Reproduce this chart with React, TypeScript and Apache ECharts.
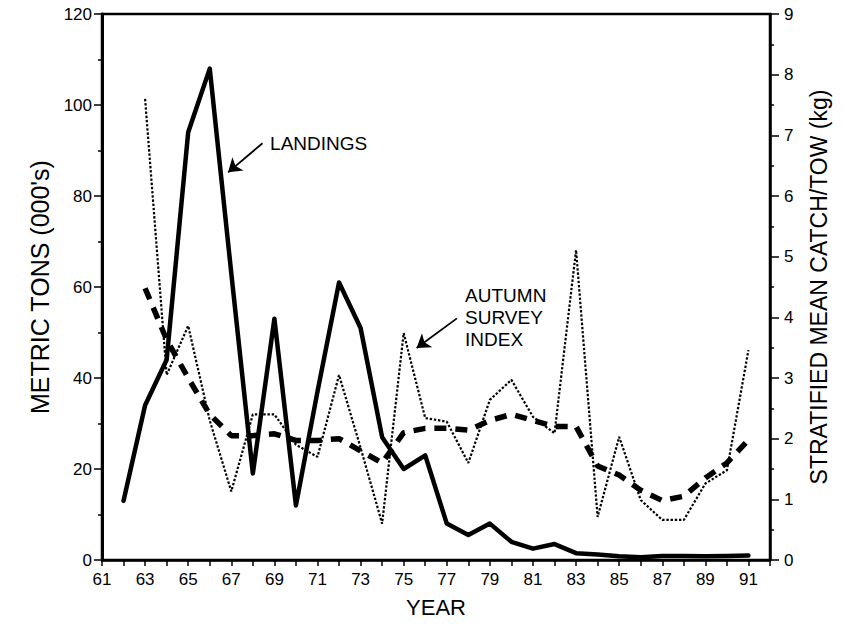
import React, { useEffect, useRef } from "react";
import * as echarts from "echarts";

// ---- data ----
const landingYears = [62, 63, 64, 65, 66, 67, 68, 69, 70, 71, 72, 73, 74, 75, 76, 77, 78, 79, 80, 81, 82, 83, 84, 85, 86, 87, 88, 89, 90, 91];
const landings = [13, 34, 44, 94, 108, 63, 19, 53, 12, 37, 61, 51, 27, 20, 23, 8, 5.5, 8, 4, 2.5, 3.5, 1.5, 1.2, 0.8, 0.6, 0.9, 0.9, 0.8, 0.9, 1.0];

const surveyYears = [63, 64, 65, 66, 67, 68, 69, 70, 71, 72, 73, 74, 75, 76, 77, 78, 79, 80, 81, 82, 83, 84, 85, 86, 87, 88, 89, 90, 91];
const surveyIndex = [7.6, 3.05, 3.86, 2.3, 1.13, 2.4, 2.4, 1.9, 1.7, 3.05, 1.85, 0.6, 3.74, 2.34, 2.28, 1.6, 2.64, 2.97, 2.36, 2.09, 5.11, 0.71, 2.03, 0.99, 0.66, 0.66, 1.26, 1.48, 3.46];
const surveySmooth = [4.48, 3.63, 3.0, 2.4, 2.05, 2.05, 2.08, 1.97, 1.97, 2.0, 1.8, 1.6, 2.1, 2.17, 2.17, 2.14, 2.3, 2.4, 2.3, 2.2, 2.2, 1.55, 1.4, 1.15, 0.98, 1.05, 1.35, 1.6, 1.98];

const leftAxisTitle = "METRIC TONS (000's)";
const rightAxisTitle = "STRATIFIED MEAN CATCH/TOW (kg)";
const xAxisTitle = "YEAR";
const landingsLabel = "LANDINGS";
const surveyLabel = "AUTUMN\nSURVEY\nINDEX";

const FONT = "'Liberation Sans', Arial, sans-serif";

export default function App() {
  const ref = useRef<HTMLDivElement>(null);

  useEffect(() => {
    if (!ref.current) return;
    const chart = echarts.init(ref.current, null, { renderer: "svg" });

    const axisLine = (w: number) => ({ show: true, lineStyle: { color: "#000", width: w } });
    const tickStyle = { color: "#000", width: 1.5 };
    const labelStyle = { color: "#000", fontSize: 17, fontFamily: FONT };

    const option: any = {
      animation: false,
      backgroundColor: "#fff",
      grid: { left: 102, right: 73, top: 14, bottom: 66, show: true, borderColor: "#000", borderWidth: 2.5 },
      xAxis: {
        type: "value",
        min: 61,
        max: 92,
        interval: 1,
        axisLine: axisLine(2.5),
        axisTick: { show: true, length: 6, lineStyle: tickStyle },
        axisLabel: {
          ...labelStyle,
          margin: 11,
          formatter: (v: number) => (v % 2 === 1 && v < 92 ? String(v) : ""),
        },
        splitLine: { show: false },
        name: xAxisTitle,
        nameLocation: "middle",
        nameGap: 36,
        nameTextStyle: { color: "#000", fontSize: 22, fontFamily: FONT },
      },
      yAxis: [
        {
          type: "value",
          min: 0,
          max: 120,
          interval: 20,
          position: "left",
          axisLine: axisLine(3),
          axisTick: { show: true, length: 8, lineStyle: tickStyle },
          minorTick: { show: true, splitNumber: 2, length: 4, lineStyle: tickStyle },
          axisLabel: { ...labelStyle, margin: 10 },
          splitLine: { show: false },
          name: leftAxisTitle,
          nameLocation: "middle",
          nameGap: 50,
          nameRotate: 90,
          nameTextStyle: { color: "#000", fontSize: 25, fontFamily: FONT },
        },
        {
          type: "value",
          min: 0,
          max: 9,
          interval: 1,
          position: "right",
          axisLine: axisLine(2.5),
          axisTick: { show: true, length: 9, lineStyle: tickStyle },
          minorTick: { show: true, splitNumber: 2, length: 4, lineStyle: tickStyle },
          axisLabel: { ...labelStyle, margin: 14 },
          splitLine: { show: false },
          name: rightAxisTitle,
          nameLocation: "middle",
          nameGap: 37,
          nameRotate: 90,
          nameTextStyle: { color: "#000", fontSize: 23, fontFamily: FONT },
        },
      ],
      series: [
        {
          name: "Landings",
          type: "line",
          xAxisIndex: 0,
          yAxisIndex: 0,
          data: landingYears.map((y, i) => [y, landings[i]]),
          symbol: "none",
          lineStyle: { color: "#000", width: 4.5, join: "round", cap: "round" },
          z: 4,
          markLine: {
            silent: true,
            animation: false,
            symbolSize: 13,
            label: { show: false },
            lineStyle: { type: "solid", color: "#000", width: 1.8 },
            emphasis: { disabled: true },
            data: [
              [
                { coord: [68.45, 91.6], symbol: "none" },
                { coord: [66.85, 85.2], symbol: "arrow" },
              ],
              [
                { coord: [77.47, 53.1], symbol: "none" },
                { coord: [75.6, 46.6], symbol: "arrow" },
              ],
            ],
          },
        },
        {
          name: "Autumn survey index",
          type: "line",
          xAxisIndex: 0,
          yAxisIndex: 1,
          data: surveyYears.map((y, i) => [y, surveyIndex[i]]),
          symbol: "none",
          lineStyle: { color: "#000", width: 2.2, type: [2.4, 1.8] },
          z: 3,
        },
        {
          name: "Survey trend",
          type: "line",
          xAxisIndex: 0,
          yAxisIndex: 1,
          data: surveyYears.map((y, i) => [y, surveySmooth[i]]),
          symbol: "none",
          lineStyle: { color: "#000", width: 5.5, type: [12, 9], cap: "butt" },
          z: 3,
        },
      ],
    };

    chart.setOption(option);

    const pLand = chart.convertToPixel({ gridIndex: 0 }, [68.8, 91.6]) as number[];
    const pSurv = chart.convertToPixel({ gridIndex: 0 }, [77.85, 60.5]) as number[];
    chart.setOption({
      graphic: [
        {
          type: "text",
          x: pLand[0],
          y: pLand[1],
          style: { text: landingsLabel, fill: "#000", font: `19px ${FONT}`, align: "left", verticalAlign: "middle" },
        },
        {
          type: "text",
          x: pSurv[0],
          y: pSurv[1],
          style: { text: surveyLabel, fill: "#000", font: `19px ${FONT}`, lineHeight: 22, align: "left", verticalAlign: "top" },
        },
      ],
    });

    return () => chart.dispose();
  }, []);

  return (
    <div
      ref={ref}
      style={{ position: "absolute", left: 0, top: 0, width: 843, height: 626, background: "#fff" }}
    />
  );
}
